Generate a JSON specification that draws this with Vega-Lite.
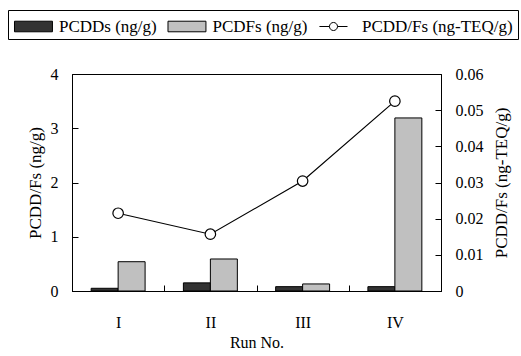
{
  "$schema": "https://vega.github.io/schema/vega-lite/v6.json",
  "autosize": {"type": "none"},
  "width": 369,
  "height": 217,
  "padding": {"left": 72, "top": 74, "right": 80, "bottom": 65},
  "background": "white",
  "config": {
    "view": {"stroke": "black", "strokeWidth": 1},
    "font": "Liberation Serif",
    "axis": {
      "labelFont": "Liberation Serif",
      "titleFont": "Liberation Serif",
      "labelFontSize": 16,
      "titleFontSize": 17,
      "labelColor": "#000000",
      "titleColor": "#000000",
      "titleFontWeight": "normal",
      "domainColor": "black",
      "tickColor": "black",
      "grid": false,
      "ticks": true,
      "tickSize": -6,
      "labelOverlap": false,
      "labelSeparation": 0
    },
    "legend": {
      "labelFont": "Liberation Serif",
      "labelFontSize": 17,
      "labelColor": "#000000"
    }
  },
  "datasets": {
    "bars": [
      {"run": "I", "series": "PCDDs (ng/g)", "value": 0.05},
      {"run": "I", "series": "PCDFs (ng/g)", "value": 0.54},
      {"run": "II", "series": "PCDDs (ng/g)", "value": 0.15},
      {"run": "II", "series": "PCDFs (ng/g)", "value": 0.59},
      {"run": "III", "series": "PCDDs (ng/g)", "value": 0.08},
      {"run": "III", "series": "PCDFs (ng/g)", "value": 0.13},
      {"run": "IV", "series": "PCDDs (ng/g)", "value": 0.08},
      {"run": "IV", "series": "PCDFs (ng/g)", "value": 3.19}
    ],
    "teq": [
      {"run": "I", "series": "PCDD/Fs (ng-TEQ/g)", "value": 0.0215},
      {"run": "II", "series": "PCDD/Fs (ng-TEQ/g)", "value": 0.0157},
      {"run": "III", "series": "PCDD/Fs (ng-TEQ/g)", "value": 0.0304},
      {"run": "IV", "series": "PCDD/Fs (ng-TEQ/g)", "value": 0.0525}
    ]
  },
  "layer": [
    {
      "data": {"name": "bars"},
      "mark": {"type": "bar", "stroke": "black", "strokeWidth": 1},
      "encoding": {
        "x": {
          "field": "run", "type": "nominal", "sort": ["I", "II", "III", "IV"],
          "scale": {"paddingInner": 0, "paddingOuter": 0},
          "axis": {"title": "Run No.", "labelAngle": 0, "tickBand": "extent", "labelPadding": 29, "titlePadding": 4,
                   "labelFont": "Liberation Serif", "titleFont": "Liberation Serif", "labelFontSize": 16, "titleFontSize": 16}
        },
        "xOffset": {
          "field": "series", "type": "nominal", "sort": ["PCDDs (ng/g)", "PCDFs (ng/g)"],
          "scale": {"paddingInner": 0, "paddingOuter": 0.71}
        },
        "y": {
          "field": "value", "type": "quantitative",
          "scale": {"domain": [0, 4]},
          "axis": {"title": "PCDD/Fs (ng/g)", "values": [0, 1, 2, 3, 4], "format": "d", "labelPadding": 20, "titlePadding": 6,
                   "labelFont": "Liberation Serif", "titleFont": "Liberation Serif", "labelFontSize": 16, "titleFontSize": 17,
                   "labelColor": "#000000", "titleColor": "#000000"}
        },
        "fill": {
          "field": "series", "type": "nominal",
          "scale": {"domain": ["PCDDs (ng/g)", "PCDFs (ng/g)", "PCDD/Fs (ng-TEQ/g)"], "range": ["#333333", "#c0c0c0", "#ffffff"]},
          "legend": {
            "orient": "none", "legendX": -64, "legendY": -64, "direction": "horizontal",
            "title": null, "symbolStrokeColor": "black", "symbolStrokeWidth": 1,
            "symbolSize": 529, "labelOffset": 22.5, "columnPadding": 7.5,
            "strokeColor": "black", "padding": 4.5,
            "labelFont": "Liberation Serif", "labelFontSize": 17,
            "encode": {
              "symbols": {
                "update": {
                  "shape": {"signal": "datum.value === 'PCDD/Fs (ng-TEQ/g)' ? 'M-0.7,0H0.17M0.87,0H1.74M0.17,0A0.35,0.35,0,1,1,0.87,0A0.35,0.35,0,1,1,0.17,0Z' : 'M-0.87,-0.46H2.43V0.46H-0.87Z'"},
                  "stroke": {"value": "black"}
                }
              }
            }
          }
        }
      }
    },
    {
      "data": {"name": "teq"},
      "encoding": {
        "x": {"field": "run", "type": "nominal", "sort": ["I", "II", "III", "IV"]},
        "y": {
          "field": "value", "type": "quantitative",
          "scale": {"domain": [0, 0.06]},
          "axis": {"orient": "right", "title": "PCDD/Fs (ng-TEQ/g)", "values": [0, 0.01, 0.02, 0.03, 0.04, 0.05, 0.06], "format": ".2~f",
                   "labelPadding": 20, "titlePadding": 10, "titleAngle": 270, "titleBaseline": "top", "labelOverlap": false,
                   "labelFont": "Liberation Serif", "titleFont": "Liberation Serif", "labelFontSize": 16, "titleFontSize": 17,
                   "labelColor": "#000000", "titleColor": "#000000"}
        }
      },
      "layer": [
        {
          "mark": {"type": "line", "color": "black", "strokeWidth": 1.2}
        },
        {
          "mark": {"type": "point", "filled": true, "stroke": "black", "strokeWidth": 1.2, "size": 110, "opacity": 1},
          "encoding": {
            "fill": {"field": "series", "type": "nominal"}
          }
        }
      ]
    }
  ],
  "resolve": {"scale": {"y": "independent"}}
}
